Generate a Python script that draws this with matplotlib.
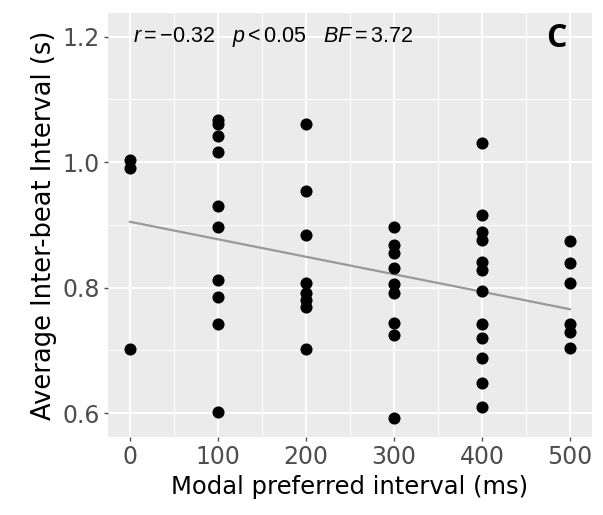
import numpy as np
import matplotlib.pyplot as plt

# modal preferred interval (ms) and average inter-beat interval (s)
x0 = [0, 0, 0]
y0 = [1.003, 0.990, 0.702]
x100 = [100] * 10
y100 = [1.067, 1.061, 1.042, 1.016, 0.930, 0.896, 0.812, 0.785, 0.742, 0.602]
x200 = [200] * 8
y200 = [1.061, 0.954, 0.884, 0.808, 0.792, 0.780, 0.769, 0.702]
x300 = [300] * 9
y300 = [0.897, 0.868, 0.855, 0.831, 0.805, 0.792, 0.744, 0.724, 0.592]
x400 = [400] * 12
y400 = [1.030, 0.915, 0.889, 0.876, 0.841, 0.828, 0.795, 0.742, 0.720, 0.688, 0.648, 0.610]
x500 = [500] * 6
y500 = [0.874, 0.839, 0.807, 0.742, 0.730, 0.703]

xticks = [0, 100, 200, 300, 400, 500]
yticks = [0.6, 0.8, 1.0, 1.2]
stats_txt = r'$r = -0.32 \quad p < 0.05 \quad BF = 3.72$'
panel_letter = 'C'

plt.rcParams['font.family'] = ['DejaVu Sans']
plt.rcParams['mathtext.fontset'] = 'custom'
plt.rcParams['mathtext.rm'] = 'Liberation Sans'
plt.rcParams['mathtext.it'] = 'Liberation Sans:italic'

x = np.array(x0 + x100 + x200 + x300 + x400 + x500)
y = np.array(y0 + y100 + y200 + y300 + y400 + y500)

fig = plt.figure(figsize=(6.03, 5.15), dpi=100)
ax = fig.add_axes([0.179, 0.1515, 0.8027, 0.8233])
ax.set_facecolor('#EBEBEB')
for s in ax.spines.values():
    s.set_visible(False)

ax.set_xlim(-25, 525)
ax.set_ylim(0.562, 1.2375)
ax.set_xticks(xticks)
ax.set_yticks(yticks)
ax.set_xticks([50, 150, 250, 350, 450], minor=True)
ax.set_yticks([0.7, 0.9, 1.1], minor=True)
ax.grid(which='major', color='white', linewidth=1.4)
ax.grid(which='minor', color='white', linewidth=0.7)
ax.set_axisbelow(True)
ax.tick_params(which='major', length=3, width=1, color='#4D4D4D',
               labelsize=17, labelcolor='#4D4D4D', pad=3)
ax.tick_params(which='minor', length=0)
ax.yaxis.set_major_formatter(plt.FormatStrFormatter('%.1f'))

ax.scatter(x, y, s=76, color='black', zorder=3, linewidths=0)

# linear fit
b, a = np.polyfit(x, y, 1)
xl = np.array([0, 500])
ax.plot(xl, a + b * xl, color='#999999', linewidth=1.6, zorder=2)

ax.text(3, 1.2, stats_txt, fontsize=15.5, va='center', ha='left')
ax.text(484, 1.197, panel_letter, fontsize=23, fontweight='bold', va='center',
        ha='center', family=['Open Sans', 'DejaVu Sans'])

ax.set_xlabel('Modal preferred interval (ms)', fontsize=17.5, labelpad=4)
ax.set_ylabel('Average Inter-beat Interval (s)', fontsize=18.5, labelpad=4)

fig.savefig('out.png', dpi=100)
